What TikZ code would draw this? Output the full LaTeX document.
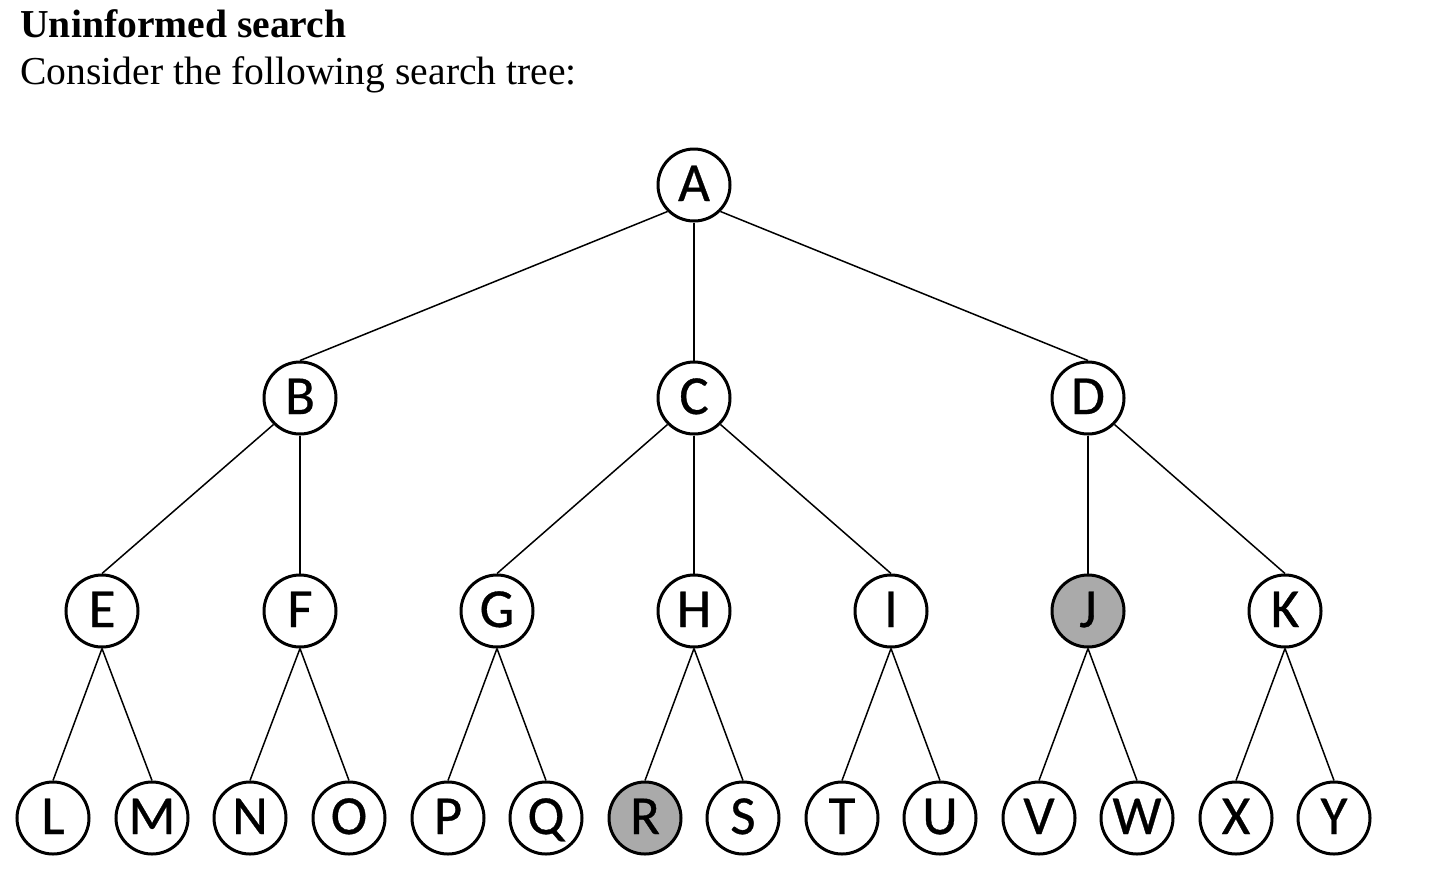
\documentclass[tikz,border=0pt]{standalone}
\usepackage{fontspec}
\setmainfont{Liberation Serif}
\newfontfamily\nodefont[FakeBold=0.6]{Carlito}
\usepackage{xcolor}
\usepackage{tikz}
\definecolor{visited}{HTML}{AAAAAA}
\tikzset{
    vertex/.style = {circle, draw, line width = 1.5pt, minimum size = 36pt, inner sep = 0pt, fill = white, text height = 17.5pt, text depth = 1.5pt, font = \nodefont\fontsize{27.5}{28}\selectfont},
    goal/.style = {vertex, fill = visited},
    branch/.style = {line width = 0.75pt}
}

\begin{document}
\begin{tikzpicture}[x = 0.5pt, y = -0.5pt]
    \useasboundingbox (0,0) rectangle (1430,890);

    \node[anchor = base west, inner sep = 0pt, font = \fontsize{19.8}{24}\selectfont\bfseries] (title) at (20,37) {Uninformed search};
    \node[anchor = base west, inner sep = 0pt, font = \fontsize{19.8}{24}\selectfont] (intro) at (20,84) {Consider the following search tree:};

    %own code
    \node[vertex] (A) at (694,185) {A};

    \node[vertex] (B) at (300,398) {B};
    \node[vertex] (C) at (694,398) {C};
    \node[vertex] (D) at (1088,398) {D};

    \node[vertex] (E) at (102,611) {E};
    \node[vertex] (F) at (300,611) {F};
    \node[vertex] (G) at (497,611) {G};
    \node[vertex] (H) at (694,611) {H};
    \node[vertex] (I) at (891,611) {I};
    \node[goal] (J) at (1088,611) {J};
    \node[vertex] (K) at (1285,611) {K};

    \node[vertex] (L) at (53,818) {L};
    \node[vertex] (M) at (152,818) {M};
    \node[vertex] (N) at (250,818) {N};
    \node[vertex] (O) at (349,818) {O};
    \node[vertex] (P) at (448,818) {P};
    \node[vertex] (Q) at (546,818) {Q};
    \node[goal] (R) at (645,818) {R};
    \node[vertex] (S) at (743,818) {S};
    \node[vertex] (T) at (842,818) {T};
    \node[vertex] (U) at (940,818) {U};
    \node[vertex] (V) at (1039,818) {V};
    \node[vertex] (W) at (1137,818) {W};
    \node[vertex] (X) at (1236,818) {X};
    \node[vertex] (Y) at (1334,818) {Y};

    \draw[branch] (A.south west) -- (B.north);
    \draw[branch] (A.south) -- (C.north);
    \draw[branch] (A.south east) -- (D.north);
    \draw[branch] (B.south west) -- (E.north);
    \draw[branch] (B.south) -- (F.north);
    \draw[branch] (C.south west) -- (G.north);
    \draw[branch] (C.south) -- (H.north);
    \draw[branch] (C.south east) -- (I.north);
    \draw[branch] (D.south) -- (J.north);
    \draw[branch] (D.south east) -- (K.north);
    \draw[branch] (E.south) -- (L.north);
    \draw[branch] (E.south) -- (M.north);
    \draw[branch] (F.south) -- (N.north);
    \draw[branch] (F.south) -- (O.north);
    \draw[branch] (G.south) -- (P.north);
    \draw[branch] (G.south) -- (Q.north);
    \draw[branch] (H.south) -- (R.north);
    \draw[branch] (H.south) -- (S.north);
    \draw[branch] (I.south) -- (T.north);
    \draw[branch] (I.south) -- (U.north);
    \draw[branch] (J.south) -- (V.north);
    \draw[branch] (J.south) -- (W.north);
    \draw[branch] (K.south) -- (X.north);
    \draw[branch] (K.south) -- (Y.north);

\end{tikzpicture}
\end{document}
